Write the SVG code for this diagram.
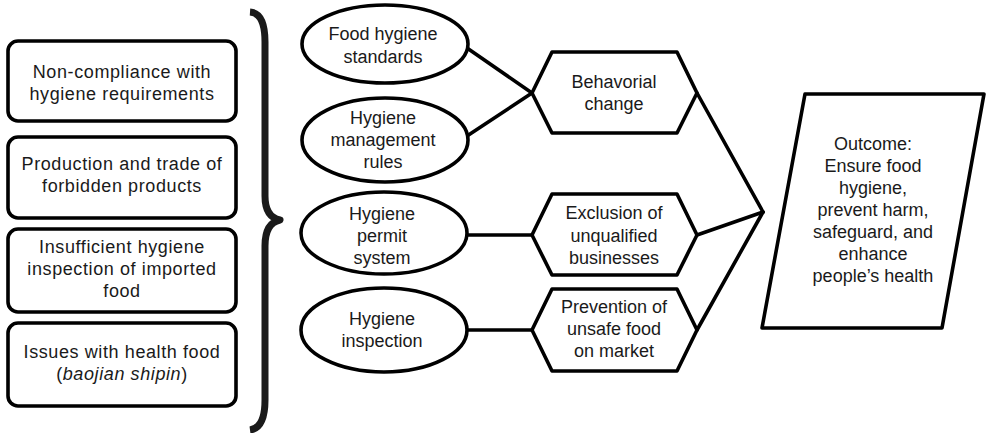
<svg xmlns="http://www.w3.org/2000/svg" width="987" height="433" viewBox="0 0 987 433">
<style>
.s{fill:#fff;stroke:#000;stroke-width:3.6;stroke-linejoin:round}
.c{fill:none;stroke:#000;stroke-width:3.6;stroke-linecap:round}
text{font-family:"Liberation Sans",Arial,sans-serif;font-size:18px;fill:#1a1a1a;text-anchor:middle}
.lb text{letter-spacing:0.6px}
</style>
<rect width="987" height="433" fill="#fff"/>
<g id="problems" class="lb">
<g id="p1"><rect class="s" x="8" y="41" width="228" height="80" rx="10"/><text x="122" y="78">Non-compliance with</text><text x="122" y="100">hygiene requirements</text></g>
<g id="p2"><rect class="s" x="8" y="137" width="228" height="81" rx="10"/><text x="122" y="170">Production and trade of</text><text x="122" y="192">forbidden products</text></g>
<g id="p3"><rect class="s" x="8" y="229" width="228" height="83" rx="10"/><text x="122" y="253">Insufficient hygiene</text><text x="122" y="275">inspection of imported</text><text x="122" y="297">food</text></g>
<g id="p4"><rect class="s" x="8" y="323" width="228" height="83" rx="10"/><text x="122" y="358">Issues with health food</text><text x="122" y="380">(<tspan font-style="italic">baojian shipin</tspan>)</text></g>
</g>
<g id="brace"><path d="M250 12 Q265 13 265 42 L265 196 Q265 217 280 220 Q265 223 265 246 L265 400 Q265 428 250 430" fill="none" stroke="#1a1a1a" stroke-width="7" stroke-linejoin="round"/></g>
<g id="connectors">
<line class="c" x1="467" y1="48" x2="532" y2="93"/>
<line class="c" x1="467" y1="136" x2="532" y2="93"/>
<line class="c" x1="467" y1="235" x2="532" y2="235"/>
<line class="c" x1="467" y1="330" x2="532" y2="330"/>
<line class="c" x1="697" y1="93" x2="763" y2="212"/>
<line class="c" x1="697" y1="235" x2="763" y2="212"/>
<line class="c" x1="697" y1="330" x2="763" y2="212"/>
</g>
<g id="e1"><ellipse class="s" cx="385" cy="44" rx="83" ry="39"/><text x="383" y="40">Food hygiene</text><text x="383" y="63">standards</text></g>
<g id="e2"><ellipse class="s" cx="385" cy="140" rx="83" ry="42"/><text x="383" y="124">Hygiene</text><text x="383" y="146">management</text><text x="383" y="168">rules</text></g>
<g id="e3"><ellipse class="s" cx="384" cy="233" rx="83" ry="41"/><text x="382" y="220">Hygiene</text><text x="382" y="242">permit</text><text x="382" y="264">system</text></g>
<g id="e4"><ellipse class="s" cx="384" cy="330" rx="83" ry="42"/><text x="382" y="325">Hygiene</text><text x="382" y="347">inspection</text></g>
<g id="h1"><polygon class="s" points="532,93 552,52 677,52 697,93 677,133 552,133"/><text x="614" y="88">Behavorial</text><text x="614" y="110">change</text></g>
<g id="h2"><polygon class="s" points="532,235 552,194 677,194 697,235 677,275 552,275"/><text x="614" y="219">Exclusion of</text><text x="614" y="242">unqualified</text><text x="614" y="264">businesses</text></g>
<g id="h3"><polygon class="s" points="532,330 552,289 677,289 697,330 677,371 552,371"/><text x="614" y="313">Prevention of</text><text x="614" y="335">unsafe food</text><text x="614" y="357">on market</text></g>
<g id="outcome"><polygon class="s" points="805,94 984,94 942,328 762,328"/>
<text x="873" y="150">Outcome:</text><text x="873" y="172">Ensure food</text><text x="873" y="194">hygiene,</text><text x="873" y="216">prevent harm,</text><text x="873" y="238">safeguard, and</text><text x="873" y="260">enhance</text><text x="873" y="282">people’s health</text></g>
</svg>
